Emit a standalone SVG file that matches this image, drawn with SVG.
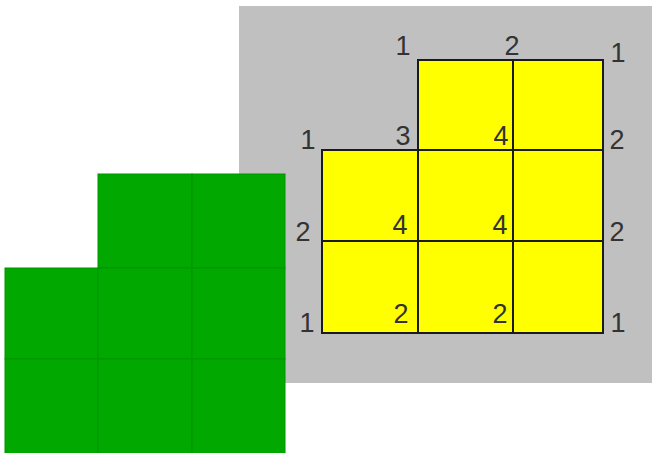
<svg xmlns="http://www.w3.org/2000/svg" width="652" height="453" viewBox="0 0 652 453">
<style>
.y{fill:#ffff00;stroke:#1a1a1a;stroke-width:2}
.g{fill:#00a800;stroke:#009600;stroke-width:1}
text{font-family:"Liberation Sans",Arial,sans-serif;font-size:27px;fill:#333}
.m{text-anchor:middle}
</style>
<rect width="652" height="453" fill="#fff"/>
<rect id="bg" x="239" y="6" width="413" height="377" fill="#c0c0c0"/>
<g id="yellow">
<rect class="y" x="418" y="60" width="95" height="90"/>
<rect class="y" x="513" y="60" width="90" height="90"/>
<rect class="y" x="322" y="150" width="96" height="91"/>
<rect class="y" x="418" y="150" width="95" height="91"/>
<rect class="y" x="513" y="150" width="90" height="91"/>
<rect class="y" x="322" y="241" width="96" height="92"/>
<rect class="y" x="418" y="241" width="95" height="92"/>
<rect class="y" x="513" y="241" width="90" height="92"/>
</g>
<g id="green">
<rect class="g" x="98" y="174" width="94" height="94"/>
<rect class="g" x="192" y="174" width="93" height="94"/>
<rect class="g" x="5" y="268" width="93" height="91"/>
<rect class="g" x="98" y="268" width="94" height="91"/>
<rect class="g" x="192" y="268" width="93" height="91"/>
<rect class="g" x="5" y="359" width="93" height="95"/>
<rect class="g" x="98" y="359" width="94" height="95"/>
<rect class="g" x="192" y="359" width="93" height="95"/>
</g>
<g id="labels">
<text class="m" x="403" y="55">1</text>
<text class="m" x="512" y="55">2</text>
<text class="m" x="618" y="62">1</text>
<text class="m" x="308" y="149">1</text>
<text class="m" x="403" y="145">3</text>
<text class="m" x="501" y="145">4</text>
<text class="m" x="617" y="149">2</text>
<text class="m" x="303" y="241">2</text>
<text class="m" x="400" y="234">4</text>
<text class="m" x="500" y="234">4</text>
<text class="m" x="617" y="241">2</text>
<text class="m" x="307" y="332">1</text>
<text class="m" x="401" y="323">2</text>
<text class="m" x="500" y="323">2</text>
<text class="m" x="618" y="332">1</text>
</g>
</svg>
